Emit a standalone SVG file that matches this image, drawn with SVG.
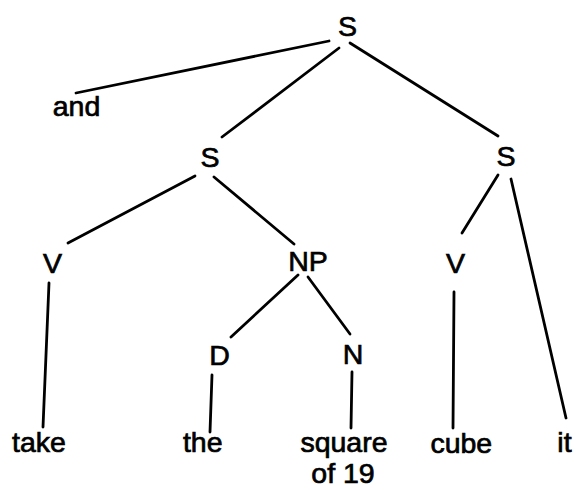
<svg xmlns="http://www.w3.org/2000/svg" width="578" height="490" viewBox="0 0 578 490">
<style>
text { font-family: "Liberation Sans", Arial, sans-serif; font-size: 28.5px; fill: #000; stroke: #000; stroke-width: 0.7; text-anchor: middle; }
.edge { stroke: #000; stroke-width: 2.8; stroke-linecap: round; fill: none; }
</style>
<rect width="578" height="490" fill="#fff"/>
<g id="connectors">
<line class="edge" x1="76" y1="93" x2="329" y2="41"/>
<line class="edge" x1="339" y1="48" x2="222" y2="137"/>
<line class="edge" x1="350" y1="43" x2="498" y2="136"/>
<line class="edge" x1="195" y1="176" x2="68" y2="243"/>
<line class="edge" x1="214" y1="177" x2="294" y2="244"/>
<line class="edge" x1="498" y1="175" x2="462" y2="233"/>
<line class="edge" x1="511" y1="179" x2="566" y2="418"/>
<line class="edge" x1="49" y1="283" x2="43" y2="427"/>
<line class="edge" x1="298" y1="275" x2="231" y2="337"/>
<line class="edge" x1="308" y1="277" x2="350" y2="334"/>
<line class="edge" x1="212" y1="375" x2="210" y2="432"/>
<line class="edge" x1="352" y1="372" x2="351" y2="428"/>
<line class="edge" x1="454" y1="292" x2="453" y2="428"/>
</g>
<g id="node-S-top"><text x="347.5" y="36">S</text></g>
<g id="node-and"><text x="76.5" y="116">and</text></g>
<g id="node-S-left"><text x="210" y="167">S</text></g>
<g id="node-S-right"><text x="506" y="166">S</text></g>
<g id="node-V-left"><text x="52.5" y="273">V</text></g>
<g id="node-NP"><text x="308" y="271">NP</text></g>
<g id="node-V-right"><text x="455.5" y="273">V</text></g>
<g id="node-D"><text x="219.5" y="365">D</text></g>
<g id="node-N"><text x="353" y="364">N</text></g>
<g id="node-take"><text x="39" y="452">take</text></g>
<g id="node-the"><text x="202.7" y="452">the</text></g>
<g id="node-square"><text x="344" y="452">square</text><text x="343" y="482.5">of 19</text></g>
<g id="node-cube"><text x="461.3" y="453">cube</text></g>
<g id="node-it"><text x="557.3" y="452" style="text-anchor:start">it</text></g>
</svg>
